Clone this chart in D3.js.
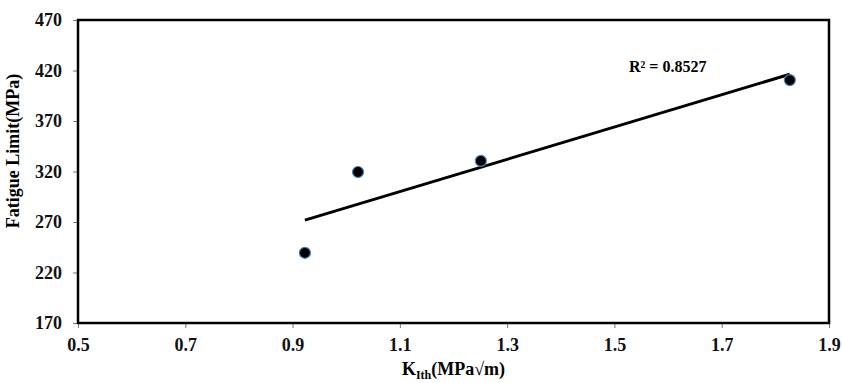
<!DOCTYPE html>
<html>
<head>
<meta charset="utf-8">
<script src="https://cdn.jsdelivr.net/npm/d3@7"></script>
<style>
  body { margin: 0; background: #fff; }
  text { font-family: "Liberation Serif", "Times New Roman", serif; font-weight: bold; }
</style>
</head>
<body>
<svg id="chart" width="842" height="383"></svg>
<script>
// data
var kIth    = [0.923, 1.022, 1.251, 1.827];
var fatigue = [239.5, 319.5, 330.5, 410.5];
var xTicks  = [0.5, 0.7, 0.9, 1.1, 1.3, 1.5, 1.7, 1.9];
var yTicks  = [170, 220, 270, 320, 370, 420, 470];

var margin = {left: 78, right: 13, top: 20, bottom: 60},
    width  = 842 - margin.left - margin.right,
    height = 383 - margin.top - margin.bottom;

var svg = d3.select("#chart");
var g = svg.append("g").attr("transform", "translate(" + margin.left + "," + margin.top + ")");

var x = d3.scaleLinear().domain([0.5, 1.9]).range([0, width]);
var y = d3.scaleLinear().domain([170, 470]).range([height, 0]);

// axes
var xAxis = g.append("g").attr("transform", "translate(0," + height + ")")
    .call(d3.axisBottom(x).tickValues(xTicks).tickFormat(d3.format(".1f")).tickSize(5).tickPadding(10));
var yAxis = g.append("g")
    .call(d3.axisLeft(y).tickValues(yTicks).tickSize(5).tickPadding(11));

[xAxis, yAxis].forEach(function(a) {
    a.select(".domain").remove();
    a.selectAll("line").attr("stroke", "#777").attr("stroke-width", 1);
    a.selectAll("text").attr("font-size", 18).attr("fill", "#111")
        .style("font-family", "'Liberation Serif', serif").style("font-weight", "bold");
});

// frame
g.append("rect").attr("width", width).attr("height", height)
    .attr("fill", "none").attr("stroke", "#000").attr("stroke-width", 2.5);

// linear trend (least squares)
var mx = d3.mean(kIth), my = d3.mean(fatigue),
    sxy = d3.sum(kIth, function(d, i) { return (d - mx) * (fatigue[i] - my); }),
    sxx = d3.sum(kIth, function(d) { return (d - mx) * (d - mx); }),
    slope = sxy / sxx, icpt = my - slope * mx;
var x0 = d3.min(kIth), x1 = d3.max(kIth);

g.append("line")
    .attr("x1", x(x0)).attr("y1", y(icpt + slope * x0))
    .attr("x2", x(x1)).attr("y2", y(icpt + slope * x1))
    .attr("stroke", "#000").attr("stroke-width", 3);

// points
g.selectAll("circle.pt").data(kIth).enter().append("circle")
    .attr("class", "pt")
    .attr("cx", function(d) { return x(d); })
    .attr("cy", function(d, i) { return y(fatigue[i]); })
    .attr("r", 5.5)
    .attr("fill", "#000").attr("stroke", "#4a7ebb").attr("stroke-width", 1.2);

// R² label
g.append("text").attr("x", x(1.527)).attr("y", 52)
    .attr("font-size", 16).text("R² = 0.8527");

// axis titles
g.append("text")
    .attr("transform", "translate(-59,131) rotate(-90)")
    .attr("text-anchor", "middle").attr("font-size", 18)
    .text("Fatigue Limit(MPa)");

var xt = g.append("text").attr("x", width / 2).attr("y", height + 52)
    .attr("text-anchor", "middle").attr("font-size", 18);
xt.append("tspan").text("K");
xt.append("tspan").attr("font-size", 12).attr("dy", 4).text("Ith");
xt.append("tspan").attr("dy", -4).text("(MPa√m)");
</script>
</body>
</html>
